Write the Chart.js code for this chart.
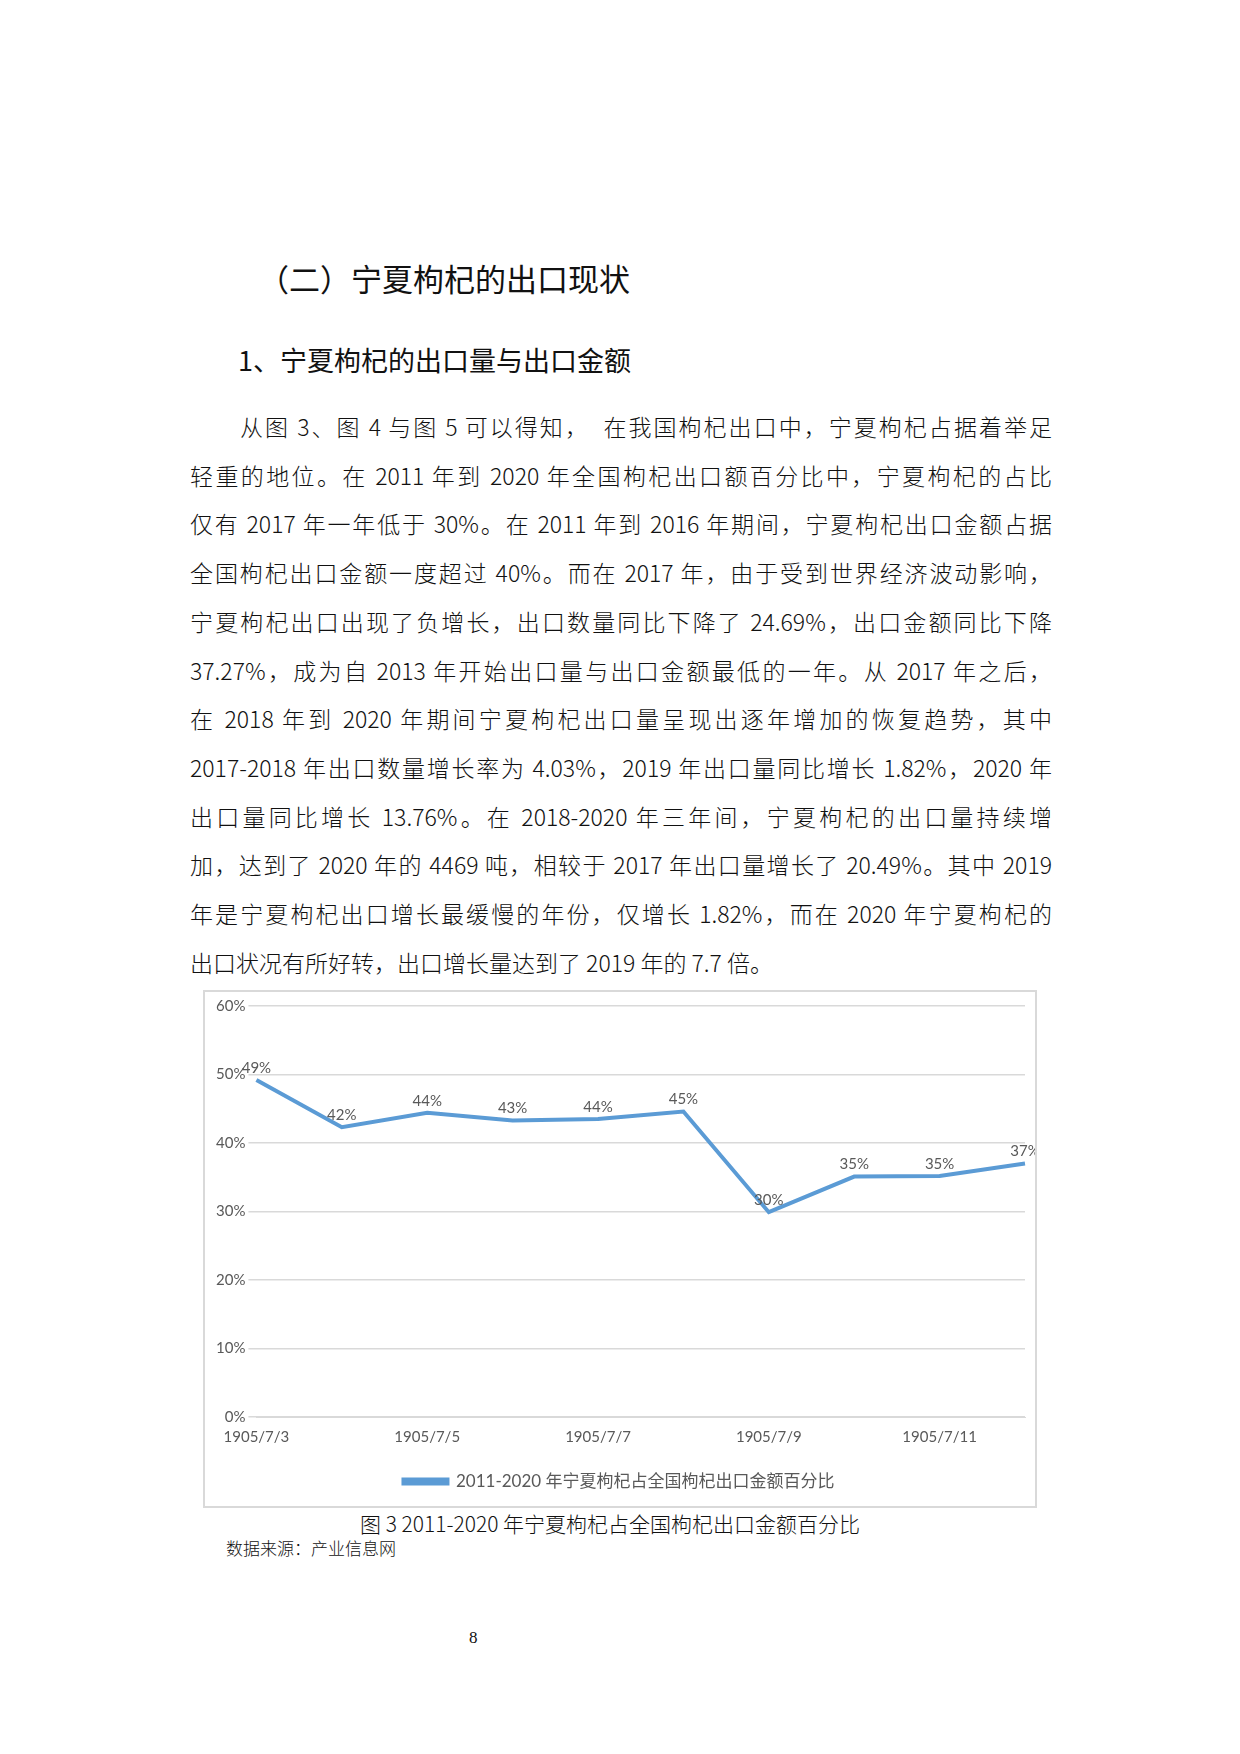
<!DOCTYPE html>
<html><head><meta charset="utf-8">
<script src="https://cdn.jsdelivr.net/npm/chart.js@4/dist/chart.umd.min.js"></script>
<style>
body{margin:0;width:1240px;height:1754px;background:#fff;position:relative;font-family:"Noto Sans CJK SC",sans-serif;color:#111}
.a{position:absolute;white-space:nowrap}
.l{position:absolute;left:190px;width:862px;font-size:23px;text-align:justify;text-align-last:justify;white-space:nowrap;font-family:"Noto Sans CJK SC";font-weight:300}
#box{position:absolute;left:203px;top:990px;width:834px;height:518px;border:2px solid #d9d9d9;box-sizing:border-box}
canvas{display:block}
</style></head><body>
<div class="a" style="left:258px;top:255px;font-size:31px">（二）宁夏枸杞的出口现状</div>
<div class="a" style="left:238px;top:340px;font-size:27px">1、宁夏枸杞的出口量与出口金额</div>
<div id="lines"></div>
<div id="box"><canvas id="c" width="830" height="514"></canvas></div>
<div class="a" style="left:360px;top:1508px;font-size:21px;font-weight:300">图 3 2011-2020 年宁夏枸杞占全国枸杞出口金额百分比</div>
<div class="a" style="left:226px;top:1535px;font-size:17px;font-weight:300">数据来源：产业信息网</div>
<div class="a" style="left:469px;top:1628px;font-size:17px;font-family:'Liberation Serif'">8</div>
<script>
const lines=["　　从图 3、图 4 与图 5 可以得知，　在我国枸杞出口中，宁夏枸杞占据着举足","轻重的地位。在 2011 年到 2020 年全国枸杞出口额百分比中，宁夏枸杞的占比","仅有 2017 年一年低于 30%。在 2011 年到 2016 年期间，宁夏枸杞出口金额占据","全国枸杞出口金额一度超过 40%。而在 2017 年，由于受到世界经济波动影响，","宁夏枸杞出口出现了负增长，出口数量同比下降了 24.69%，出口金额同比下降","37.27%，成为自 2013 年开始出口量与出口金额最低的一年。从 2017 年之后，","在 2018 年到 2020 年期间宁夏枸杞出口量呈现出逐年增加的恢复趋势，其中","2017-2018 年出口数量增长率为 4.03%，2019 年出口量同比增长 1.82%，2020 年","出口量同比增长 13.76%。在 2018-2020 年三年间，宁夏枸杞的出口量持续增","加，达到了 2020 年的 4469 吨，相较于 2017 年出口量增长了 20.49%。其中 2019","年是宁夏枸杞出口增长最缓慢的年份，仅增长 1.82%，而在 2020 年宁夏枸杞的","出口状况有所好转，出口增长量达到了 2019 年的 7.7 倍。"];
const L=document.getElementById('lines');
lines.forEach((t,i)=>{const d=document.createElement('div');d.className='l';d.style.top=(409+i*48.7)+'px';d.textContent=t;if(i==lines.length-1){d.style.textAlignLast='left';}L.appendChild(d);});
const categories=["1905/7/3","1905/7/4","1905/7/5","1905/7/6","1905/7/7","1905/7/8","1905/7/9","1905/7/10","1905/7/11","1905/7/12"];
const values=[49.2,42.3,44.4,43.3,43.5,44.6,29.9,35.1,35.2,37.0];
const yTicks=[0,10,20,30,40,50,60];
const seriesName="2011-2020 年宁夏枸杞占全国枸杞出口金额百分比";
const lbl={id:'lbl',afterDatasetsDraw(ch){const c=ch.ctx;const m=ch.getDatasetMeta(0);c.save();c.font='15px Lato';c.fillStyle='#595959';c.textAlign='center';m.data.forEach((p,i)=>{c.fillText(Math.round(values[i])+'%',p.x,p.y-12);});c.restore();}};
new Chart(document.getElementById('c'),{type:'line',data:{labels:categories,datasets:[{label:seriesName,data:values,borderColor:'#5b9bd5',backgroundColor:'#5b9bd5',borderWidth:4,pointRadius:0,tension:0}]},
options:{responsive:false,animation:false,devicePixelRatio:1,layout:{padding:{left:8,right:10,top:14,bottom:6}},
scales:{y:{min:0,max:60,afterBuildTicks(s){s.ticks=yTicks.map(v=>({value:v}));},border:{display:false},grid:{color:'#d9d9d9',lineWidth:1.5},ticks:{callback:v=>v+'%',color:'#595959',font:{family:'Lato',size:15}}},
x:{grid:{display:false},border:{color:'#d9d9d9'},ticks:{autoSkip:false,maxRotation:0,color:'#595959',font:{family:'Lato',size:15},callback:(v,i)=>i%2==0?categories[i]:''}}},
plugins:{legend:{position:'bottom',labels:{boxWidth:44,boxHeight:4,color:'#595959',font:{size:17,family:"Lato, 'Noto Sans CJK SC'"},padding:24}},tooltip:{enabled:false}}},plugins:[lbl]});
</script>
</body></html>
